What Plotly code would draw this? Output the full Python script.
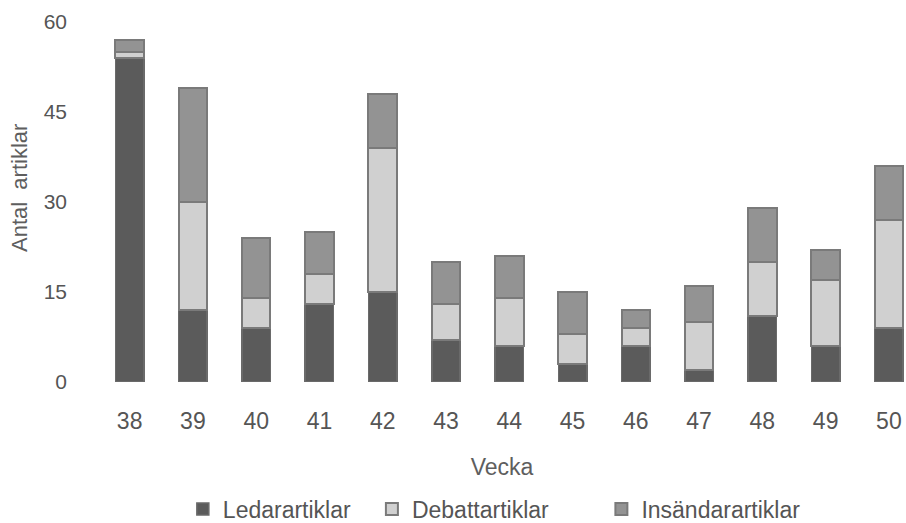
import plotly.graph_objects as go

weeks = ["38", "39", "40", "41", "42", "43", "44", "45", "46", "47", "48", "49", "50"]
ledar = [54, 12, 9, 13, 15, 7, 6, 3, 6, 2, 11, 6, 9]
debatt = [1, 18, 5, 5, 24, 6, 8, 5, 3, 8, 9, 11, 18]
insandar = [2, 19, 10, 7, 9, 7, 7, 7, 3, 6, 9, 5, 9]
y_ticks = [0, 15, 30, 45, 60]

FONT = "Liberation Sans"
TXT = "#555555"

fig = go.Figure()
fig.add_trace(go.Bar(x=weeks, y=ledar, name="Ledarartiklar", legend="legend",
                     marker=dict(color="#5b5b5b", line=dict(color="#6a6a6a", width=1.5))))
fig.add_trace(go.Bar(x=weeks, y=debatt, name="Debattartiklar", legend="legend2",
                     marker=dict(color="#d0d0d0", line=dict(color="#7a7a7a", width=2))))
fig.add_trace(go.Bar(x=weeks, y=insandar, name="Insändarartiklar", legend="legend3",
                     marker=dict(color="#939393", line=dict(color="#7a7a7a", width=2))))

leg_common = dict(orientation="h", xanchor="left", yanchor="middle", y=(382 - 509) / 360,
                  font=dict(size=23, color=TXT), bgcolor="rgba(0,0,0,0)")

fig.update_layout(
    barmode="stack",
    bargap=0.55,
    width=906, height=523,
    margin=dict(l=98, r=0, t=22, b=141, autoexpand=False),
    paper_bgcolor="white", plot_bgcolor="white",
    font=dict(family=FONT, color=TXT, size=20),
    showlegend=True,
    legend=dict(x=0.105, **leg_common),
    legend2=dict(x=0.339, **leg_common),
    legend3=dict(x=0.623, **leg_common),
    xaxis=dict(type="category", range=[-0.5, 12.27], showgrid=False, showline=False,
               zeroline=False, ticks="", ticklabelstandoff=23, automargin=False,
               tickfont=dict(size=23, color=TXT),
               title=dict(text="Vecka", font=dict(size=23, color="#5e5e5e"), standoff=25)),
    yaxis=dict(range=[0, 60], tickvals=y_ticks, showgrid=False, showline=False,
               zeroline=False, ticks="", ticklabelstandoff=30, automargin=False,
               tickfont=dict(size=21, color=TXT)),
    annotations=[dict(text="Antal  artiklar", xref="paper", yref="paper",
                      x=(19 - 98) / 808, y=(382 - 188) / 360, xanchor="center", yanchor="middle",
                      textangle=-90, showarrow=False,
                      font=dict(size=22, color="#5e5e5e", family=FONT))],
)

fig.write_html("out.html", config={"displayModeBar": False},
               post_script="document.body.style.margin='0';document.body.style.overflow='hidden';")
